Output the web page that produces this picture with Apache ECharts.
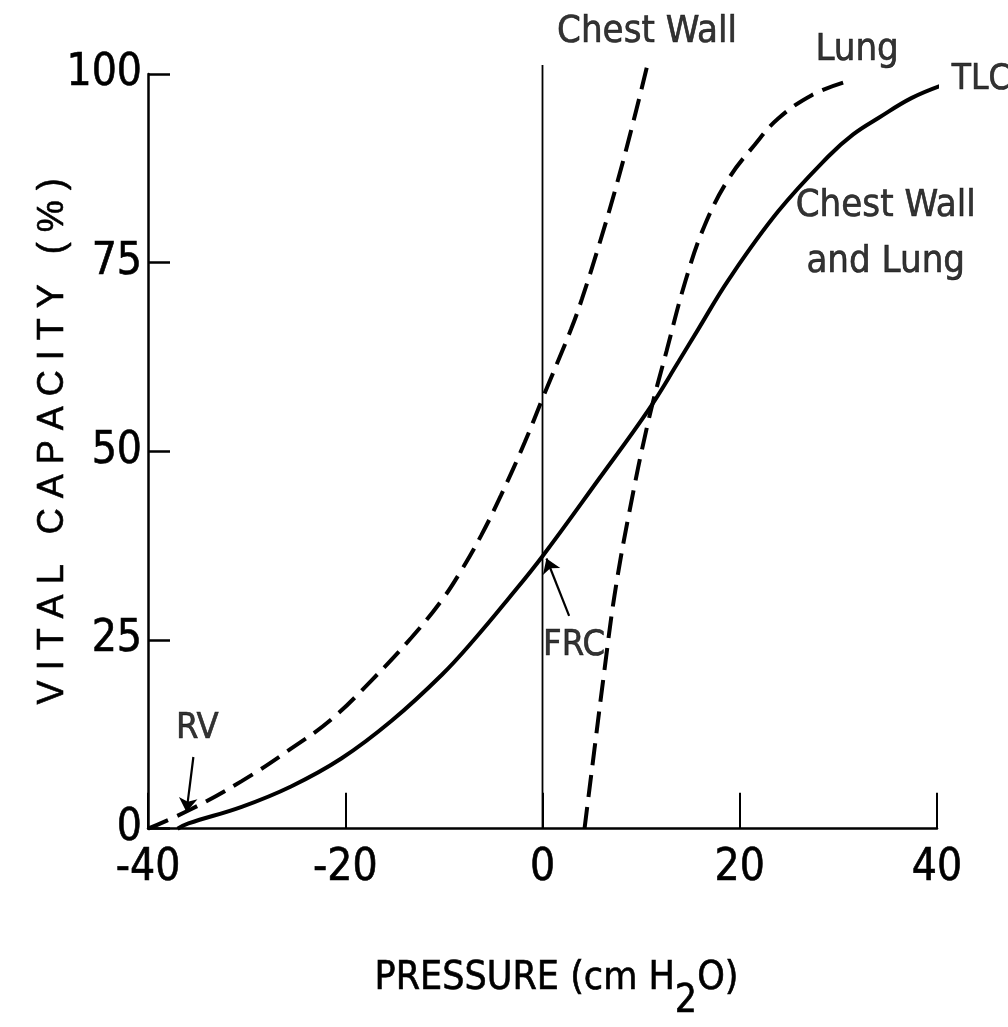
<!DOCTYPE html>
<html>
<head>
<meta charset="utf-8">
<title>Pressure–volume curves of the respiratory system</title>
<script src="https://cdn.jsdelivr.net/npm/echarts@6/dist/echarts.min.js"></script>
<style>
  html, body { margin: 0; padding: 0; background: #fff; }
  #chart { width: 1008px; height: 1027px; }
</style>
</head>
<body>
<div id="chart"></div>
<script>
// Static relaxation curves: pressure (cm H2O) vs. vital capacity (%)
const pressureTicks = [-40, -20, 0, 20, 40];
const capacityTicks = [0, 25, 50, 75, 100];

// Chest wall alone (dashed)
const chestWallPressure = [-40, -35.6, -30.5, -25.5, -21.4, -17.3, -13.3, -10.2, -8.2, -6.2, -4.2, -1.8, 0, 2.9, 4, 5.7, 7.3, 9, 10.6];
const chestWallVolume   = [0, 2.6, 6.3, 10.6, 14.5, 19.7, 25.3, 30.3, 34.3, 38.9, 44.2, 51.2, 57, 66.2, 70.2, 77.2, 84.3, 92.6, 101];

// Lung alone (dashed)
const lungPressure = [4.26, 5.27, 6.29, 7.3, 8.72, 10.75, 12.58, 14.5, 16.43, 18.86, 21.5, 23.9, 27.3, 30.6];
const lungVolume   = [0, 10.55, 21.1, 30.9, 41.4, 54.1, 63.3, 72.6, 79.9, 86.1, 90.6, 94.1, 97.2, 98.9];

// Chest wall and lung together (solid)
const totalPressure = [-37, -35.9, -30.5, -25.5, -20.4, -15.3, -10.2, -6.9, -3.5, 0, 5.7, 10.75, 13.8, 15.8, 18.9, 23.9, 29, 31.5, 34.1, 37.4, 40.5];
const totalVolume   = [0, 0.7, 2.9, 5.6, 9.3, 14.3, 20.4, 25.1, 30.4, 36.1, 46.3, 55.5, 61.9, 66.2, 72.8, 81.8, 89.1, 92.0, 94.2, 96.8, 98.5];

// Zero-pressure reference line
const zeroLine = [[0, 0], [0, 101.2]];

// Text annotations [pressure, volume, text, align, fontSize]
const annotations = [
  [10.6, 105.6, 'Chest Wall', 'center', 38],
  [31.9, 103.2, 'Lung', 'center', 38],
  [41.5, 99.2, 'TLC', 'left', 35],
  [34.8, 78.8, 'Chest Wall\nand Lung', 'center', 38],
  [-35.0, 13.3, 'RV', 'center', 36],
  [3.2, 24.3, 'FRC', 'center', 36]
];

// Pointer arrows [from, to, curveness]
const pointers = [
  [[-35.4, 9.5], [-36.1, 2.2], 0],
  [[2.7, 28.2], [0.4, 35.8], 0.3]
];

const NARROW = "'Liberation Sans Narrow', 'DejaVu Sans Condensed', 'Liberation Sans', sans-serif";
const REGULAR = "'Liberation Sans', 'DejaVu Sans', sans-serif";

const zip = (xs, ys) => xs.map((x, i) => [x, ys[i]]);

// Spread the letters of the vertical axis title
const yTitle = 'VITAL CAPACITY (%)';
const yTitleRich = yTitle.split('').map(c => '{t|' + c + '}').join('');

const chart = echarts.init(document.getElementById('chart'), null, { renderer: 'canvas' });

const dashed = { color: '#000', width: 4, type: [22, 10], cap: 'butt' };
const curveBase = { type: 'line', smooth: 0.4, showSymbol: false, symbol: 'none', clip: false, silent: true };
const ink = { color: '#000', textBorderColor: '#000', textBorderWidth: 0.6 };

chart.setOption({
  backgroundColor: '#fff',
  animation: false,
  grid: { left: 148, right: 71, top: 74, bottom: 195, containLabel: false },
  xAxis: {
    type: 'value',
    min: -40, max: 40, interval: 20,
    name: 'PRESSURE (cm H{sub|2}O)',
    nameLocation: 'middle',
    nameGap: 108,
    nameMoveOverlap: false,
    nameTextStyle: Object.assign({
      fontFamily: NARROW, fontSize: 39,
      padding: [0, 0, 0, 28],
      rich: {
        sub: Object.assign({ fontFamily: NARROW, fontSize: 39, padding: [46, 0, 0, 0] }, ink)
      }
    }, ink),
    axisLine: { show: true, onZero: false, lineStyle: { color: '#000', width: 2.5 } },
    axisTick: { show: true, inside: true, length: 36, lineStyle: { color: '#000', width: 2 },
      customValues: pressureTicks },
    axisLabel: Object.assign({ fontFamily: NARROW, fontSize: 44, margin: 18,
      customValues: pressureTicks }, ink),
    splitLine: { show: false }
  },
  yAxis: {
    type: 'value',
    min: 0, max: 100, interval: 25,
    name: yTitleRich,
    nameLocation: 'middle',
    nameRotate: 90,
    nameGap: 77,
    nameMoveOverlap: false,
    nameTextStyle: {
      color: '#000', padding: [0, 0, 0, 20],
      rich: {
        t: Object.assign({ fontFamily: REGULAR, fontSize: 36, padding: [0, 5, 0, 5] }, ink)
      }
    },
    axisLine: { show: true, onZero: false, lineStyle: { color: '#000', width: 2.5 } },
    axisTick: { show: true, inside: true, length: 22, lineStyle: { color: '#000', width: 2.5 },
      customValues: capacityTicks },
    axisLabel: Object.assign({ fontFamily: NARROW, fontSize: 44, margin: 6,
      customValues: capacityTicks }, ink),
    splitLine: { show: false }
  },
  series: [
    Object.assign({ name: 'Chest Wall', data: zip(chestWallPressure, chestWallVolume), lineStyle: dashed }, curveBase),
    Object.assign({ name: 'Lung', data: zip(lungPressure, lungVolume), lineStyle: dashed }, curveBase),
    Object.assign({ name: 'Chest Wall and Lung', data: zip(totalPressure, totalVolume),
      lineStyle: { color: '#000', width: 4 } }, curveBase),
    {
      name: 'zero', type: 'line', data: zeroLine, symbol: 'none', clip: false, silent: true,
      lineStyle: { color: '#000', width: 1.8 },
      markLine: {
        silent: true, symbol: ['none', 'arrow'], symbolSize: 9,
        label: { show: false },
        lineStyle: { color: '#000', width: 1.8, type: 'solid' },
        data: [[{ coord: [zeroLine[1][0], zeroLine[1][1] - 0.6] }, { coord: zeroLine[1] }]]
      }
    },
    {
      name: 'annotations', type: 'scatter', clip: false, symbolSize: 0, silent: true,
      itemStyle: { color: '#000' },
      data: annotations.map(a => ({
        value: [a[0], a[1]],
        text: a[2],
        label: Object.assign({
          show: true, fontFamily: NARROW, fontSize: a[4], lineHeight: 56,
          align: a[3] === 'left' ? 'left' : 'center',
          verticalAlign: 'middle',
          position: a[3] === 'left' ? 'right' : 'inside',
          distance: 0,
          formatter: p => p.data.text
        }, ink)
      })),
      markLine: {
        silent: true, symbol: ['none', 'arrow'], symbolSize: 14,
        label: { show: false },
        lineStyle: { color: '#000', width: 2.2, type: 'solid' },
        data: pointers.map(p => [
          { coord: p[0], lineStyle: { curveness: p[2] } },
          { coord: p[1] }
        ])
      }
    }
  ]
});
</script>
</body>
</html>
